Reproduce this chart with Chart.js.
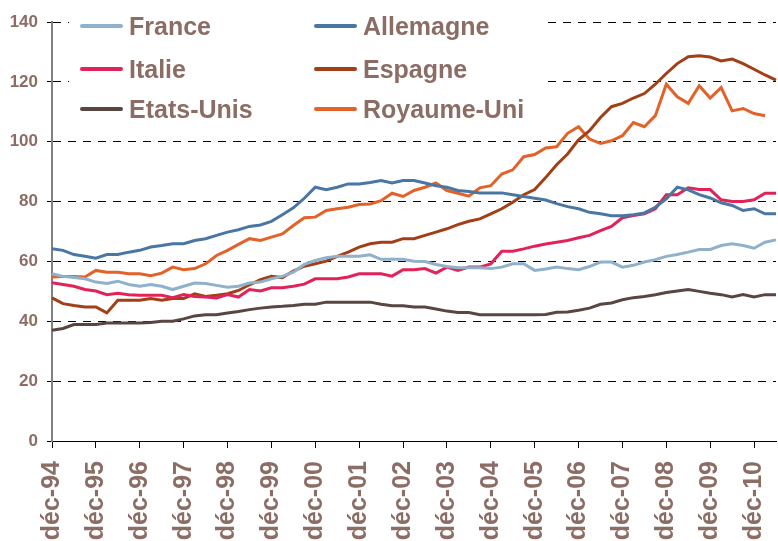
<!DOCTYPE html>
<html>
<head>
<meta charset="utf-8">
<script src="https://cdn.jsdelivr.net/npm/chart.js@4.4.1/dist/chart.umd.min.js"></script>
<style>
  html, body { margin: 0; padding: 0; background: #fff; }
  #wrap { width: 778px; height: 541px; }
</style>
</head>
<body>
<div id="wrap"><canvas id="chart" width="778" height="541"></canvas></div>
<script>
// quarterly points, déc-94 .. juin-11
const years = ['94','95','96','97','98','99','00','01','02','03','04','05','06','07','08','09','10','11'];
const months = ['mars', 'juin', 'sept', 'déc'];

const france = [55.9, 55, 54.6, 54.2, 53.1, 52.6, 53.4, 52.3, 51.7, 52.3, 51.7, 50.6, 51.7, 52.8, 52.6, 52, 51.4, 51.7, 52.8, 53.1,
  54.2, 55, 56.4, 59, 60.3, 61.2, 61.7, 61.7, 61.7, 62.2, 60.7, 60.7, 60.7, 60.1, 60, 59, 58.3, 57.9, 57.9, 57.9,
  57.6, 58.1, 59.2, 59.2, 57, 57.5, 58.1, 57.6, 57.2, 58.3, 59.8, 59.8, 58.1, 58.7, 59.8, 60.6, 61.7, 62.3, 63.1, 64,
  64, 65.3, 65.9, 65.3, 64.4, 66.4, 67.2];
const allemagne = [64.2, 63.7, 62.3, 61.7, 61.1, 62.3, 62.3, 63.1, 63.7, 64.8, 65.3, 65.9, 65.9, 67, 67.6, 68.7, 69.8, 70.6, 71.7, 72.2,
  73.4, 75.6, 77.9, 81.1, 84.8, 84, 84.8, 85.9, 85.9, 86.4, 87, 86.2, 87, 87, 86.2, 85.3, 84.8, 83.7, 83.4, 82.9,
  82.9, 82.9, 82.3, 81.7, 81.1, 80.5, 79.3, 78.3, 77.6, 76.4, 75.9, 75.3, 75.3, 75.6, 76.2, 78.1, 80.9, 84.8, 83.9, 82.3,
  81.2, 79.6, 78.7, 77, 77.6, 75.9, 75.9];
const italie = [52.9, 52.3, 51.7, 50.6, 50.1, 48.9, 49.4, 48.9, 48.7, 48.7, 48.7, 47.9, 48.9, 48.3, 48.1, 47.8, 48.9, 48.1, 50.6, 50.1,
  51.2, 51.2, 51.7, 52.4, 54.2, 54.2, 54.2, 54.8, 55.9, 55.9, 55.9, 55.1, 57.2, 57.2, 57.6, 56.1, 58.1, 57, 58.1, 58.1,
  59.2, 63.4, 63.4, 64.2, 65.1, 65.8, 66.4, 67, 67.9, 68.7, 70.3, 71.7, 74.6, 75.3, 75.9, 77.6, 82.3, 82.3, 84.6, 84,
  84, 80.6, 80, 80, 80.6, 82.8, 82.8];
const espagne = [47.8, 45.9, 45.3, 44.8, 44.8, 42.8, 47, 47, 47, 47.6, 47, 47.6, 47.6, 49.2, 48.3, 48.7, 49.2, 50.3, 52.2, 53.9,
  55, 54.6, 56.8, 58.4, 59.2, 60.1, 61.7, 63.1, 64.8, 65.9, 66.4, 66.4, 67.6, 67.6, 68.7, 69.8, 70.9, 72.3, 73.4, 74.2,
  75.9, 77.6, 79.8, 82.3, 84, 88, 92.3, 95.9, 100.6, 103.7, 108.1, 111.7, 112.8, 114.6, 116.1, 119.2, 122.8, 126.1, 128.4, 128.7,
  128.3, 127, 127.6, 126.1, 124.2, 122.3, 120.6];
const etatsUnis = [37, 37.6, 38.9, 38.9, 38.9, 39.4, 39.4, 39.4, 39.4, 39.6, 40, 40, 40.8, 41.8, 42.2, 42.2, 42.8, 43.3, 43.9, 44.4,
  44.8, 45, 45.3, 45.7, 45.7, 46.4, 46.4, 46.4, 46.4, 46.4, 45.7, 45.2, 45.2, 44.8, 44.8, 44.1, 43.4, 42.9, 42.9, 42.2,
  42.2, 42.2, 42.2, 42.2, 42.2, 42.3, 43, 43.1, 43.7, 44.4, 45.7, 46.1, 47.2, 47.9, 48.3, 48.9, 49.6, 50.1, 50.6, 50,
  49.4, 48.9, 48.1, 48.9, 48.1, 48.9, 48.9];
const royaumeUni = [54.8, 55, 55, 54.8, 57, 56.4, 56.4, 55.9, 55.9, 55.2, 56.1, 58.1, 57.2, 57.6, 59.2, 62, 63.7, 65.7, 67.6, 67,
  68.1, 69.2, 72, 74.6, 74.8, 77, 77.6, 78.1, 79, 79.2, 80.3, 82.8, 81.7, 83.7, 84.8, 86.2, 83.7, 82.8, 81.8, 84.6,
  85.3, 89.2, 90.6, 95, 95.7, 97.9, 98.3, 102.8, 105, 100.9, 99.4, 100.3, 102, 106.4, 105, 108.7, 119.2, 115, 112.8, 118.7,
  114.6, 118.1, 110.3, 111.1, 109.4, 108.7, null];

const yTicks = [0, 20, 40, 60, 80, 100, 120, 140];

// build the quarter labels
const labels = ['déc-94'];
for (let y = 1; y < years.length; y++) {
  for (let m = 0; m < 4; m++) {
    if (labels.length >= france.length) break;
    labels.push(months[m] + '-' + years[y]);
  }
}

const textColor = '#8b6d65';
const fontFamily = '"Liberation Sans", Arial, sans-serif';

const series = [
  { label: 'France', data: france, color: '#8fb1cc' },
  { label: 'Allemagne', data: allemagne, color: '#4a76a3' },
  { label: 'Italie', data: italie, color: '#e2235a' },
  { label: 'Espagne', data: espagne, color: '#a23f16' },
  { label: 'Etats-Unis', data: etatsUnis, color: '#5a4641' },
  { label: 'Royaume-Uni', data: royaumeUni, color: '#e2622a' }
];

// legend drawn in two columns over a white box, like the original
const boxLegend = {
  id: 'boxLegend',
  beforeDatasetsDraw(chart) {
    const ctx = chart.ctx;
    ctx.save();
    ctx.fillStyle = '#fff';
    ctx.fillRect(69, 0, 474, 130);
    const cols = [82, 316];
    const rows = [26, 69, 109];
    ctx.font = 'bold 25px ' + fontFamily;
    ctx.textBaseline = 'alphabetic';
    ctx.textAlign = 'left';
    series.forEach((s, i) => {
      const x = cols[i % 2];
      const y = rows[Math.floor(i / 2)];
      ctx.strokeStyle = s.color;
      ctx.lineWidth = 4;
      ctx.lineCap = 'round';
      ctx.beginPath();
      ctx.moveTo(x, y);
      ctx.lineTo(x + 39, y);
      ctx.stroke();
      ctx.fillStyle = textColor;
      ctx.fillText(s.label, x + 47, y + 9);
    });
    ctx.restore();
  }
};

new Chart(document.getElementById('chart'), {
  type: 'line',
  data: {
    labels: labels,
    datasets: series.map(s => ({
      label: s.label,
      data: s.data,
      borderColor: s.color,
      backgroundColor: s.color,
      borderWidth: 3,
      pointRadius: 0,
      tension: 0,
      spanGaps: false
    }))
  },
  options: {
    responsive: false,
    animation: false,
    layout: { padding: { top: 22, right: 2, left: 0, bottom: 0 } },
    plugins: {
      legend: { display: false },
      tooltip: { enabled: false }
    },
    scales: {
      x: {
        offset: false,
        grid: {
          drawOnChartArea: false,
          drawTicks: true,
          tickLength: 7,
          color: c => (c.index % 4 === 0 ? '#000' : 'rgba(0,0,0,0)'),
          lineWidth: 1
        },
        border: { color: '#000', width: 1 },
        ticks: {
          autoSkip: false,
          minRotation: 90,
          maxRotation: 90,
          padding: 13,
          color: textColor,
          font: { family: fontFamily, size: 25, weight: 'bold' },
          callback: function (v, i) { return i % 4 === 0 ? labels[i] : ''; }
        },
        afterFit: s => { s.height = 100; s.paddingRight = 0; s.paddingLeft = 0; }
      },
      y: {
        min: 0,
        max: 140,
        afterBuildTicks: s => { s.ticks = yTicks.map(v => ({ value: v })); },
        grid: {
          color: '#000',
          lineWidth: 1,
          tickLength: 5,
          tickColor: '#000'
        },
        border: { color: '#808080', width: 2, dash: [8, 7] },
        ticks: {
          padding: 9,
          color: textColor,
          font: { family: fontFamily, size: 17, weight: 'bold' }
        },
        afterFit: s => { s.width = 52; }
      }
    }
  },
  plugins: [boxLegend]
});
</script>
</body>
</html>
